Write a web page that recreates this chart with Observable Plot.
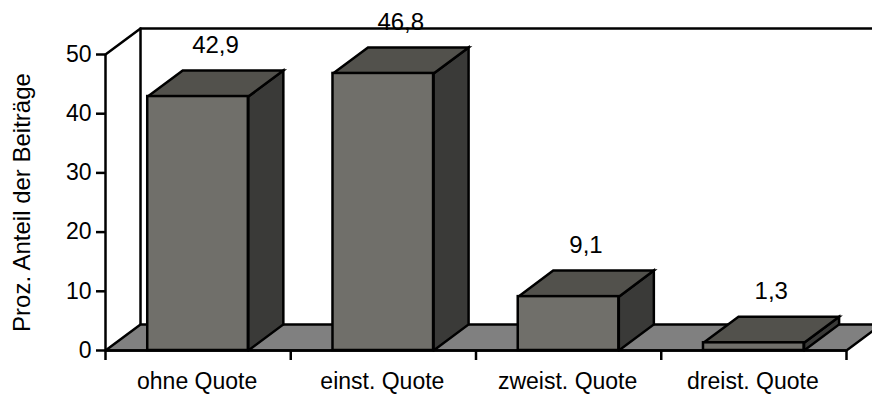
<!DOCTYPE html>
<html>
<head>
<meta charset="utf-8">
<script src="https://cdn.jsdelivr.net/npm/d3@7"></script>
<script src="https://cdn.jsdelivr.net/npm/@observablehq/plot@0.6"></script>
<style>
  html, body { margin: 0; padding: 0; background: #fff; overflow: hidden; }
  svg { display: block; }
</style>
</head>
<body>
<div id="chart"></div>
<script>
// Share of contributions by quota type
const categories = ["ohne Quote", "einst. Quote", "zweist. Quote", "dreist. Quote"];
const values = [42.9, 46.8, 9.1, 1.3];
const valueLabels = ["42,9", "46,8", "9,1", "1,3"];
const yTicks = [0, 10, 20, 30, 40, 50];
const xTicks = [0, 1, 2, 3, 4];

// Oblique projection: how far the back of the scene is shifted, in scale units
const depthX = 0.189;
const depthY = 4.4;
const barInset = 0.228;
const barWidth = 0.543;
const yMax = 50;

const ink = "#000";
const lineWidth = 2.5;
const floorColor = "#808080";
const frontColor = "#706f6a";
const topColor = "#52514c";
const sideColor = "#3a3a38";

const bars = values.map((value, i) => ({
  i, value,
  label: valueLabels[i],
  x1: i + barInset,
  x2: i + barInset + barWidth
}));

const polygon = (pts, key) => pts.map(([x, y]) => ({x, y, key}));

const floorPoly = polygon([
  [0, 0], [depthX, depthY], [4 + depthX, depthY], [4, 0], [0, 0]
], "floor");

const topFaces = bars.flatMap(b => polygon([
  [b.x1, b.value], [b.x1 + depthX, b.value + depthY],
  [b.x2 + depthX, b.value + depthY], [b.x2, b.value], [b.x1, b.value]
], "top" + b.i));

const sideFaces = bars.flatMap(b => polygon([
  [b.x2, 0], [b.x2 + depthX, depthY],
  [b.x2 + depthX, b.value + depthY], [b.x2, b.value], [b.x2, 0]
], "side" + b.i));

// Wall outline: left edge, back edges and the two diagonals of the side wall
const wallLines = [
  ...polygon([[0, yMax], [depthX, yMax + depthY], [4 + depthX, yMax + depthY]], "wallTop"),
  ...polygon([[depthX, yMax + depthY], [depthX, depthY]], "wallBack")
];

const faceStyle = {
  x: "x", y: "y", z: "key",
  stroke: ink, strokeWidth: lineWidth, strokeLinejoin: "miter", strokeMiterlimit: 4
};

const chart = Plot.plot({
  width: 872,
  height: 394,
  marginLeft: 105,
  marginRight: 26,
  marginTop: 54,
  marginBottom: 44,
  style: {fontFamily: "'Liberation Sans', Arial, sans-serif", fontSize: "23px", color: "#000", background: "#fff"},
  x: {type: "linear", domain: [0, 4]},
  y: {domain: [0, yMax]},
  marks: [
    Plot.line(wallLines, {...faceStyle, fill: "none"}),
    Plot.line(floorPoly, {...faceStyle, fill: floorColor}),
    Plot.axisY({
      ticks: yTicks, tickSize: 9, tickPadding: 5, tickFormat: d => d,
      strokeWidth: lineWidth, fontSize: 23, label: null
    }),
    // Rotated axis title, sized separately from the tick labels
    Plot.axisY({
      ticks: [], tickSize: 0,
      label: "Proz. Anteil der Beiträge", labelAnchor: "center", labelArrow: "none",
      labelOffset: 93, fontSize: 24
    }),
    Plot.ruleX([0], {y1: 0, y2: yMax, stroke: ink, strokeWidth: lineWidth}),
    Plot.axisX({
      ticks: xTicks, tickSize: 10, tickFormat: () => "", label: null, strokeWidth: lineWidth
    }),
    Plot.line(sideFaces, {...faceStyle, fill: sideColor}),
    Plot.line(topFaces, {...faceStyle, fill: topColor}),
    Plot.rect(bars, {
      x1: "x1", x2: "x2", y1: 0, y2: "value",
      fill: frontColor, stroke: ink, strokeWidth: lineWidth
    }),
    Plot.ruleY([0], {x1: 0, x2: 4, stroke: ink, strokeWidth: lineWidth}),
    Plot.text(bars, {
      x: b => b.x1 + barWidth / 2 + depthX / 2,
      y: b => b.value + depthY,
      text: "label", dy: -25, lineAnchor: "middle", fill: ink, fontSize: 24
    }),
    Plot.text(categories, {
      x: (d, i) => i + 0.5,
      y: 0, text: d => d, dx: -1, dy: 31, lineAnchor: "middle", fill: ink, fontSize: 23
    })
  ]
});

document.getElementById("chart").append(chart);
</script>
</body>
</html>
